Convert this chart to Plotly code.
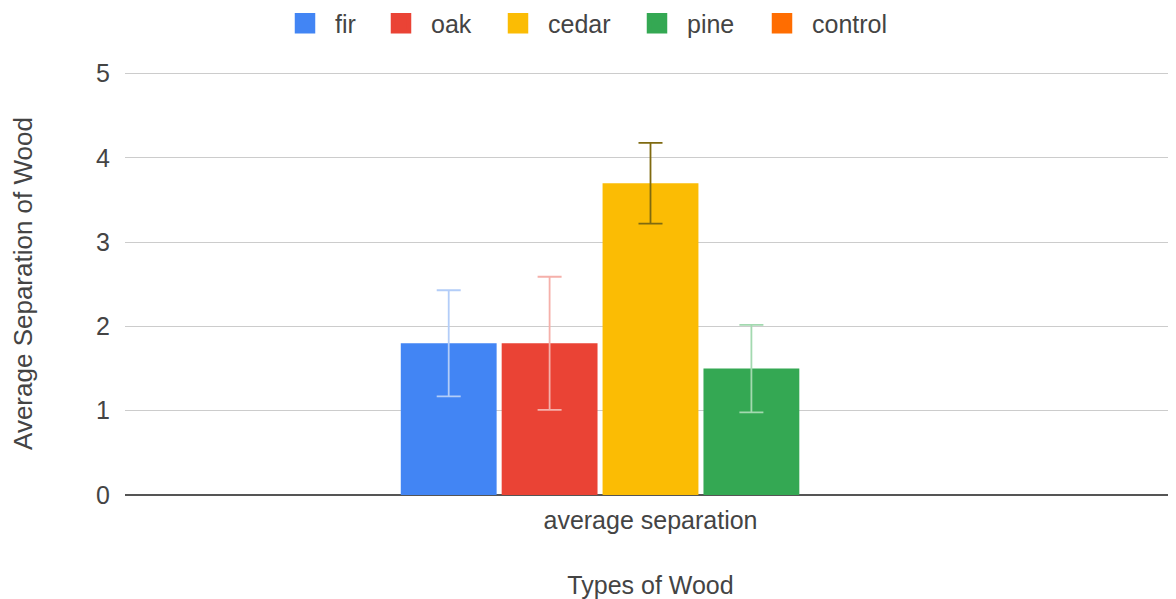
import plotly.graph_objects as go

categories = ["average separation"]
series_names = ["fir", "oak", "cedar", "pine", "control"]
series_values = [1.8, 1.8, 3.7, 1.5, 0]
error_values = [0.63, 0.79, 0.48, 0.52, 0]
bar_colors = ["#4285F4", "#EA4335", "#FBBC04", "#34A853", "#FF6D01"]
error_colors = ["#b3cdf8", "#f5b0aa", "#7f6a10", "#a3d9b0", "#FF6D01"]
y_ticks = [0, 1, 2, 3, 4, 5]
legend_centers = [305, 401, 518, 657, 782]  # legend swatch centres (px, page)

FONT = "Arial, Liberation Sans, sans-serif"
TXT = "#444444"
FS = 25
W, H = 1168, 591

fig = go.Figure()
for name, val, err, col, ecol in zip(series_names, series_values, error_values, bar_colors, error_colors):
    fig.add_trace(go.Bar(
        name=name, x=categories, y=[val], showlegend=False, legendgroup=name,
        marker=dict(color=col, line=dict(width=0)),
        error_y=dict(type="data", array=[err], visible=err > 0, color=ecol, thickness=1.8, width=12),
    ))

legend_layout = {}
for i, (name, col, cx) in enumerate(zip(series_names, bar_colors, legend_centers)):
    key = "legend" if i == 0 else f"legend{i + 1}"
    fig.add_trace(go.Scatter(
        name=name, x=[None], y=[None], mode="markers", legendgroup=name, legend=key,
        marker=dict(symbol="square", size=16, color=col, line=dict(width=4.5, color=col)),
    ))
    legend_layout[key] = dict(
        orientation="h", xref="container", yref="container",
        x=(cx - 8 - 30) / W, xanchor="left", y=1 - 15.5 / H, yanchor="middle",
        font=dict(family=FONT, size=FS, color=TXT), itemsizing="trace", itemwidth=50,
        bgcolor="rgba(0,0,0,0)",
    )

fig.update_layout(
    width=W, height=H,
    margin=dict(l=117, r=0, t=64, b=104),
    paper_bgcolor="white", plot_bgcolor="white",
    barmode="group", bargap=0.52, bargroupgap=0.05,
    font=dict(family=FONT, size=FS, color=TXT),
    xaxis=dict(title=dict(text="Types of Wood", standoff=44, font=dict(family=FONT, size=FS, color=TXT)),
               automargin=False,
               showgrid=False, tickfont=dict(family=FONT, size=FS, color=TXT), ticklabelstandoff=8),
    yaxis=dict(title=dict(text="Average Separation of Wood", standoff=69, font=dict(family=FONT, size=26, color=TXT)),
               automargin=False,
               range=[0, 5.02], tickvals=y_ticks, gridcolor="#cccccc", gridwidth=1,
               zeroline=True, zerolinecolor="#555555", zerolinewidth=2,
               tickfont=dict(family=FONT, size=FS, color=TXT), ticklabelstandoff=14),
    **legend_layout,
)

fig.write_html("out.html")
